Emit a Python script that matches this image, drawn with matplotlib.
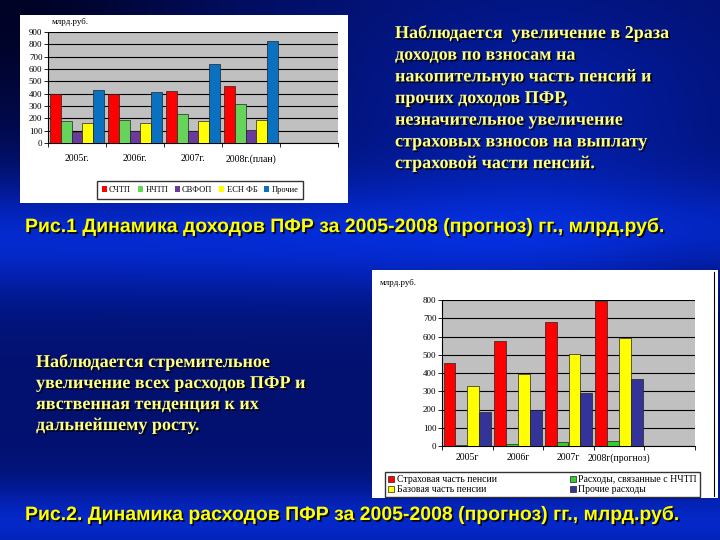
import numpy as np
import matplotlib
matplotlib.use("Agg")
import matplotlib.pyplot as plt
import matplotlib.patheffects as pe
from matplotlib.patches import Rectangle

# data: chart 1 (income), chart 2 (expenses), bn rub
years1 = ["2005г.", "2006г.", "2007г.", "2008г.(план)"]
inc_names = ["СЧТП", "НЧТП", "СВФОП", "ЕСН ФБ", "Прочие"]
inc_sctp = [400, 400, 425, 465]
inc_nctp = [175, 190, 235, 315]
inc_svfop = [90, 100, 100, 105]
inc_esn = [165, 165, 180, 185]
inc_other = [430, 410, 640, 830]
inc_colors = ["#ff0000", "#66d45a", "#6a3a9c", "#ffff00", "#0a70c0"]

years2 = ["2005г", "2006г", "2007г", "2008г(прогноз)"]
exp_names = ["Страховая часть пенсии", "Расходы, связанные с НЧТП",
             "Базовая часть пенсии", "Прочие расходы"]
exp_insur = [455, 575, 680, 795]
exp_nctp = [3, 10, 20, 25]
exp_base = [330, 395, 505, 590]
exp_other = [185, 195, 290, 365]
exp_colors = ["#ff0000", "#33cc33", "#ffff00", "#333399"]

W, H = 720, 540
fig = plt.figure(figsize=(7.2, 5.4), dpi=100)


def box(x0, y0, x1, y1):
    # pixel box (top-left origin) -> figure fraction
    return [x0 / W, 1 - y1 / H, (x1 - x0) / W, (y1 - y0) / H]


# background gradient
bg = fig.add_axes([0, 0, 1, 1])
bg.set_zorder(-5)
X, Y = np.meshgrid(np.linspace(0, 1, 360), np.linspace(0, 1, 270))
b = (0.45 + 0.4 * np.exp(-((Y - 0.44) / 0.11) ** 2)
     + 0.35 * np.exp(-((Y - 0.97) / 0.07) ** 2)
     + 0.2 * np.exp(-((X - 0.75) / 0.25) ** 2 - ((Y - 0.2) / 0.2) ** 2)
     - 0.3 * np.exp(-(X ** 2 + Y ** 2) / 0.08)
     - 0.15 * np.exp(-((X - 1) ** 2 + (Y - 0.55) ** 2) / 0.03))
b = np.clip(b, 0.15, 1)
img = np.dstack([0.02 * b, 0.22 * b ** 1.5, 0.98 * b])
bg.imshow(img, extent=[0, 1, 0, 1], aspect="auto", origin="upper")
bg.set_xlim(0, 1)
bg.set_ylim(0, 1)
bg.axis("off")

# white chart frames (drawn on the background axes)
bg.add_patch(Rectangle((20 / W, 1 - 203 / H), 328 / W, 188 / H,
                       fc="white", ec="none", zorder=5))
bg.add_patch(Rectangle((372 / W, 1 - 498 / H), 346 / W, 228 / H,
                       fc="white", ec="none", zorder=5))
bg.plot([714 / W, 714 / W], [1 - 496 / H, 1 - 272 / H], color="black",
        lw=0.8, zorder=6)


def bar_chart(rect, series, colors, labels, ymax, width, lab_off):
    ax = fig.add_axes(rect)
    ax.set_facecolor("#c0c0c0")
    n = len(series)
    x = np.arange(len(labels)) + 0.5
    for i, (vals, c) in enumerate(zip(series, colors)):
        ax.bar(x + (i - (n - 1) / 2) * width, vals, width, color=c,
               edgecolor="#222222", linewidth=0.5, zorder=3)
    ax.set_xlim(0, 5)
    ax.set_ylim(0, ymax)
    ax.set_yticks(np.arange(0, ymax + 1, 100))
    ax.set_xticks(np.arange(0, 6))
    ax.set_xticklabels([])
    ax.grid(axis="y", color="black", linewidth=0.8, zorder=1)
    for s in ["top", "right"]:
        ax.spines[s].set_visible(False)
    ax.tick_params(axis="y", labelsize=6.5, length=3, width=0.6, pad=1)
    ax.tick_params(axis="x", length=3, width=0.6)
    for t in ax.get_yticklabels():
        t.set_family("Liberation Serif")
    for xi, lab in zip(x, labels):
        ax.text(xi, -lab_off * ymax, lab, ha="center", va="top", fontsize=7,
                family="Liberation Serif")
    return ax


ax1 = bar_chart(box(48, 32, 338, 143),
                [inc_sctp, inc_nctp, inc_svfop, inc_esn, inc_other],
                inc_colors, years1, 900, 0.185, 0.1)
fig.text(52 / W, 1 - 22 / H, "млрд.руб.", fontsize=6.5, family="Liberation Serif",
         va="center")
h1 = [Rectangle((0, 0), 1, 1, fc=c) for c in inc_colors]
fig.legend(h1, inc_names, loc="center", bbox_to_anchor=(200 / W, 1 - 190 / H),
           ncol=5, frameon=True, fancybox=False, edgecolor="black",
           handlelength=0.6, handleheight=0.6, handletextpad=0.3, columnspacing=0.8,
           borderpad=0.6, prop={"family": "Liberation Serif", "size": 6})

ax2 = bar_chart(box(442, 300, 695, 446),
                [exp_insur, exp_nctp, exp_base, exp_other],
                exp_colors, years2, 800, 0.235, 0.05)
fig.text(380 / W, 1 - 283 / H, "млрд.руб.", fontsize=6.5, family="Liberation Serif",
         va="center")
h2 = [Rectangle((0, 0), 1, 1, fc=c, ec="#222222", lw=0.5) for c in exp_colors]
order = [0, 2, 1, 3]
fig.legend([h2[i] for i in order], [exp_names[i] for i in order],
           loc="lower left", bbox_to_anchor=(385 / W, 1 - 497 / H, 315 / W, 24 / H),
           mode="expand", ncol=2, frameon=True, fancybox=False, edgecolor="black",
           handlelength=0.6, handleheight=0.6, handletextpad=0.3,
           borderpad=0.3, labelspacing=0.1, borderaxespad=0,
           prop={"family": "Liberation Serif", "size": 7})

# slide texts
shadow = [pe.withSimplePatchShadow(offset=(1.2, -1.2), shadow_rgbFace="black",
                                   alpha=0.9)]
txt1 = ("Наблюдается  увеличение в 2раза\nдоходов по взносам на\n"
        "накопительную часть пенсий и\nпрочих доходов ПФР,\n"
        "незначительное увеличение\nстраховых взносов на выплату\n"
        "страховой части пенсий.")
fig.text(395 / W, 1 - 24 / H, txt1, color="#ffff80", fontsize=13,
         family="Liberation Serif", weight="bold", va="top", linespacing=1.36,
         path_effects=shadow)
txt2 = ("Наблюдается стремительное\nувеличение всех расходов ПФР и\n"
        "явственная тенденция к их\nдальнейшему росту.")
fig.text(36 / W, 1 - 353 / H, txt2, color="#ffff80", fontsize=13,
         family="Liberation Serif", weight="bold", va="top", linespacing=1.31,
         path_effects=shadow)

cap = dict(color="#ffff00", fontsize=14, family="Liberation Sans", weight="bold",
           va="center", path_effects=shadow)
fig.text(25 / W, 1 - 227 / H,
         "Рис.1 Динамика доходов ПФР за 2005-2008 (прогноз) гг., млрд.руб.", **cap)
fig.text(25 / W, 1 - 515 / H,
         "Рис.2. Динамика расходов ПФР за 2005-2008 (прогноз) гг., млрд.руб.", **cap)

fig.savefig("out.png", dpi=100)
